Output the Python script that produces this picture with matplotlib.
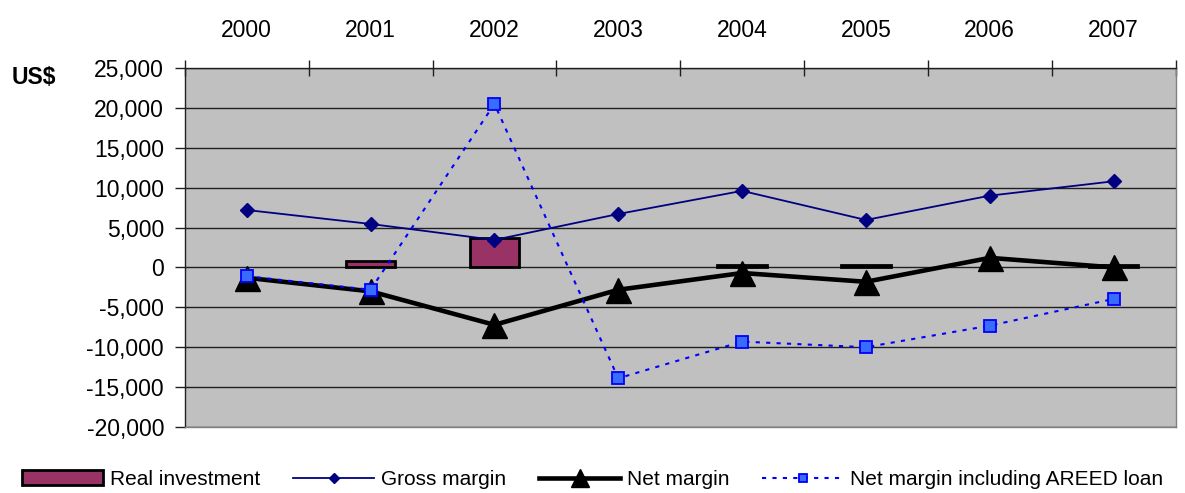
import matplotlib.pyplot as plt
import numpy as np
from matplotlib.ticker import FuncFormatter, MultipleLocator

plt.rcParams['font.family'] = ['Liberation Sans', 'DejaVu Sans']

# Data (US$); None = no bar
years = ['2000', '2001', '2002', '2003', '2004', '2005', '2006', '2007']
real_investment = [None, 850, 3700, None, 300, 300, None, 300]
gross_margin = [7200, 5450, 3450, 6700, 9600, 5950, 9000, 10800]
net_margin = [-1300, -3000, -7200, -2800, -700, -1800, 1200, 0]
net_margin_areed = [-1100, -2800, 20500, -13900, -9300, -10000, -7300, -3950]

fig = plt.figure(figsize=(11.85, 4.93), dpi=100)
ax = fig.add_axes([0.156, 0.134, 0.836, 0.728])
ax.set_facecolor('#C0C0C0')

x = np.arange(len(years))
bars = np.array([np.nan if v is None else v for v in real_investment], dtype=float)

ax.bar(x, bars, width=0.4, color='#993366', edgecolor='black',
       linewidth=2, label='Real investment', zorder=2)
ax.plot(x, gross_margin, color='#000080', lw=1.3, marker='D', markersize=7.5,
        label='Gross margin', zorder=3)
ax.plot(x, net_margin, color='black', lw=3.3, marker='^', markersize=18,
        label='Net margin', zorder=4)
ax.plot(x, net_margin_areed, color='#0000FF', lw=1.5, linestyle=(0, (2, 3)),
        marker='s', markersize=8.5, markerfacecolor='#3A6BFF',
        markeredgecolor='#0000FF', markeredgewidth=1.3,
        label='Net margin including AREED loan', zorder=5)

ax.set_xlim(-0.5, len(years) - 0.5)
ax.set_ylim(-20000, 25000)
ax.yaxis.set_major_locator(MultipleLocator(5000))
ax.yaxis.set_major_formatter(FuncFormatter(lambda v, p: f'{int(v):,}'))
ax.grid(axis='y', color='#202020', lw=1, zorder=1)
ax.set_axisbelow(True)

# categories on top
ax.xaxis.tick_top()
ax.set_xticks(x)
ax.set_xticklabels(years)
ax.set_xticks(np.arange(-0.5, len(years)), minor=True)
ax.tick_params(axis='x', which='major', length=0, pad=19, labelsize=16.5)
ax.tick_params(axis='x', which='minor', direction='inout', length=12,
               width=1, color='#202020')
ax.tick_params(axis='y', direction='out', length=7, width=1,
               color='#202020', labelsize=16.5, pad=8)

for side in ['left', 'top']:
    ax.spines[side].set_color('#202020')
    ax.spines[side].set_linewidth(1)
for side in ['right', 'bottom']:
    ax.spines[side].set_color('#808080')
    ax.spines[side].set_linewidth(1)

fig.text(0.010, 0.83, 'US$', fontsize=16.5, fontweight='bold')

handles, labels = ax.get_legend_handles_labels()
order = [3, 0, 1, 2]
fig.legend([handles[i] for i in order], [labels[i] for i in order],
           loc='lower center', bbox_to_anchor=(0.5, -0.03), ncol=4,
           frameon=False, fontsize=15, handlelength=3.9, handletextpad=0.3,
           columnspacing=1.6, markerscale=0.7)

plt.savefig('out.png', dpi=100)
